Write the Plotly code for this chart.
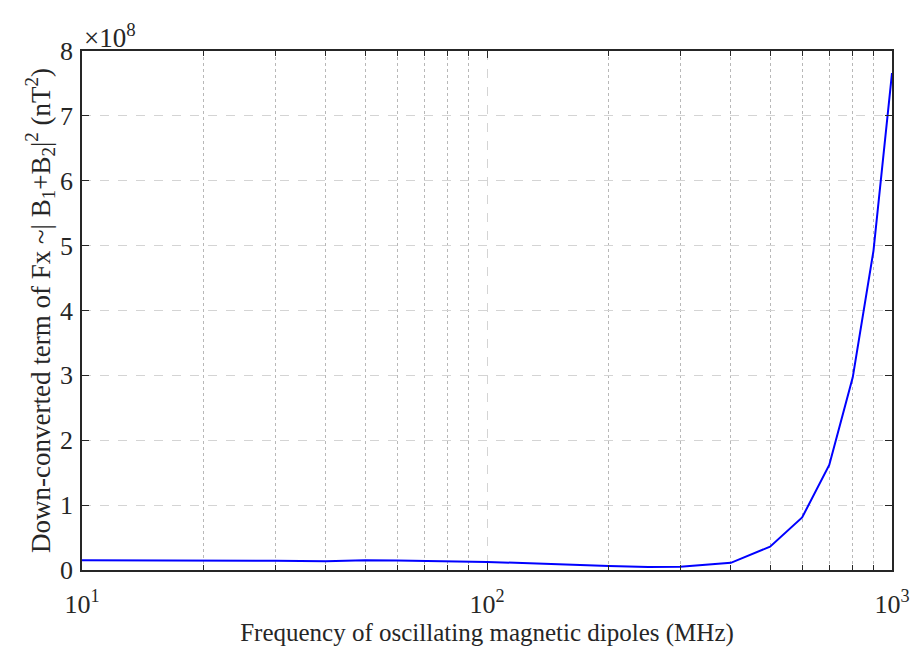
import plotly.graph_objects as go

freq_mhz = [10, 20, 30, 40, 50, 60, 70, 80, 90, 100, 200, 250, 300, 400, 500, 600, 700, 800, 900, 1000]
term_values = [1.50e7, 1.50e7, 1.42e7, 1.36e7, 1.50e7, 1.45e7, 1.40e7, 1.35e7, 1.30e7, 1.25e7,
               0.60e7, 0.45e7, 0.50e7, 1.10e7, 3.60e7, 8.10e7, 1.62e8, 2.97e8, 4.92e8, 7.66e8]

y_tick_vals = [0, 1e8, 2e8, 3e8, 4e8, 5e8, 6e8, 7e8, 8e8]
y_tick_text = ["0", "1", "2", "3", "4", "5", "6", "7", "8"]
x_tick_vals = [10, 100, 1000]
x_tick_text = ["10<sup>1</sup>", "10<sup>2</sup>", "10<sup>3</sup>"]
x_minor_vals = [20, 30, 40, 50, 60, 70, 80, 90, 200, 300, 400, 500, 600, 700, 800, 900]

font_family = "Liberation Serif, Times New Roman, serif"
axis_col = "#262626"

fig = go.Figure()
fig.add_trace(go.Scatter(x=freq_mhz, y=term_values, mode="lines",
                         line=dict(color="#0000ff", width=2), showlegend=False))

fig.update_layout(
    width=912, height=648,
    margin=dict(l=82, r=20, t=51, b=78),
    paper_bgcolor="white", plot_bgcolor="white",
    font=dict(family=font_family, size=25, color=axis_col),
    xaxis=dict(
        type="log", range=[1, 3], automargin=False,
        tickmode="array", tickvals=x_tick_vals, ticktext=x_tick_text,
        tickfont=dict(size=26, family=font_family, color=axis_col),
        ticks="inside", ticklen=7, tickcolor=axis_col, tickwidth=1.3,
        showline=True, linecolor=axis_col, linewidth=1.5, mirror="ticks",
        showgrid=True, gridcolor="#d4d4d4", griddash="dash", gridwidth=1,
        zeroline=False,
        ticklabelstandoff=10,
        minor=dict(tickmode="array", tickvals=x_minor_vals, ticks="inside", ticklen=5,
                   tickcolor=axis_col, showgrid=True, gridcolor="#b8b8b8",
                   griddash="dot", gridwidth=1),
        title=dict(text="Frequency of oscillating magnetic dipoles (MHz)",
                   font=dict(size=25, family=font_family, color=axis_col), standoff=0),
    ),
    yaxis=dict(
        range=[0, 8e8], automargin=False,
        tickmode="array", tickvals=y_tick_vals, ticktext=y_tick_text,
        tickfont=dict(size=26, family=font_family, color=axis_col),
        ticks="inside", ticklen=7, tickcolor=axis_col, tickwidth=1.3,
        showline=True, linecolor=axis_col, linewidth=1.5, mirror="ticks",
        showgrid=True, gridcolor="#d4d4d4", griddash="dash", gridwidth=1,
        zeroline=False,
        ticklabelstandoff=2,
        title=dict(text="Down-converted term of Fx ~| B<sub>1</sub>+B<sub>2</sub>|<sup>2</sup> (nT<sup>2</sup>)",
                   font=dict(size=27, family=font_family, color=axis_col), standoff=2),
    ),
    annotations=[dict(text="×10<sup>8</sup>", xref="paper", yref="paper",
                      x=0, y=1, xanchor="left", yanchor="bottom", showarrow=False,
                      font=dict(size=27, family=font_family, color=axis_col), yshift=-4)],
)

fig.write_html("out.html")
